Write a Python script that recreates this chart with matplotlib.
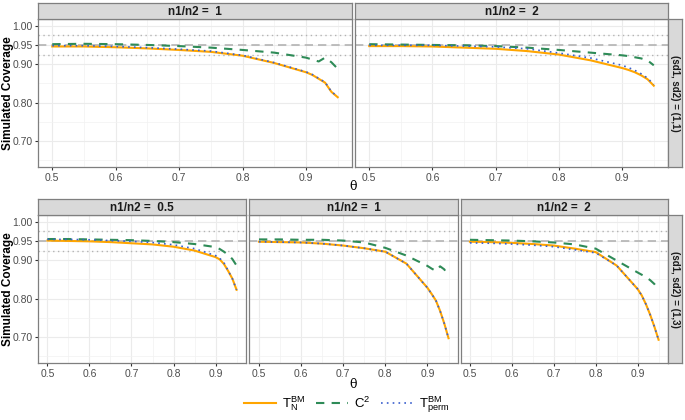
import numpy as np
import matplotlib
matplotlib.use("Agg")
import matplotlib.pyplot as plt
from matplotlib.lines import Line2D

plt.rcParams['font.family'] = ['Liberation Sans', 'DejaVu Sans']
plt.rcParams['mathtext.fontset'] = 'custom'
plt.rcParams['mathtext.rm'] = 'Liberation Sans'
plt.rcParams['mathtext.it'] = 'Liberation Sans'

# theta grid
theta = [0.50, 0.55, 0.60, 0.65, 0.70, 0.75, 0.80, 0.85, 0.90, 0.91, 0.92, 0.93, 0.94, 0.95]

# (sd1, sd2) = (1,1), n1/n2 = 1
tn_11_1 = [0.946, 0.946, 0.944, 0.941, 0.937, 0.932, 0.922, 0.903, 0.879, 0.872, 0.862, 0.852, 0.828, 0.814]
c2_11_1 = [0.952, 0.953, 0.952, 0.950, 0.947, 0.943, 0.937, 0.930, 0.917, 0.912, 0.907, 0.917, 0.905, 0.888]
tp_11_1 = [0.948, 0.948, 0.946, 0.943, 0.939, 0.934, 0.923, 0.904, 0.880, 0.873, 0.863, 0.853, 0.829, 0.815]
# (sd1, sd2) = (1,1), n1/n2 = 2
tn_11_2 = [0.947, 0.947, 0.946, 0.943, 0.940, 0.934, 0.925, 0.910, 0.890, 0.885, 0.879, 0.871, 0.861, 0.844]
c2_11_2 = [0.952, 0.951, 0.950, 0.949, 0.947, 0.943, 0.937, 0.930, 0.923, 0.921, 0.918, 0.915, 0.910, 0.897]
tp_11_2 = [0.949, 0.949, 0.949, 0.947, 0.945, 0.940, 0.929, 0.916, 0.897, 0.891, 0.884, 0.875, 0.864, 0.847]
# (sd1, sd2) = (1,3), n1/n2 = 0.5
tn_13_05 = [0.951, 0.950, 0.949, 0.947, 0.944, 0.941, 0.935, 0.925, 0.908, 0.902, 0.890, 0.872, 0.852, 0.823]
c2_13_05 = [0.955, 0.955, 0.954, 0.953, 0.952, 0.950, 0.947, 0.942, 0.934, 0.929, 0.922, 0.914, 0.903, 0.886]
tp_13_05 = [0.954, 0.954, 0.953, 0.951, 0.949, 0.946, 0.940, 0.930, 0.912, 0.905, 0.893, 0.873, 0.852, 0.823]
# (sd1, sd2) = (1,3), n1/n2 = 1
tn_13_1 = [0.948, 0.947, 0.946, 0.943, 0.938, 0.931, 0.922, 0.891, 0.828, 0.812, 0.795, 0.768, 0.735, 0.697]
c2_13_1 = [0.954, 0.954, 0.953, 0.953, 0.951, 0.946, 0.932, 0.912, 0.885, 0.878, 0.872, 0.884, 0.876, 0.857]
tp_13_1 = [0.948, 0.947, 0.946, 0.943, 0.938, 0.931, 0.922, 0.891, 0.828, 0.812, 0.795, 0.768, 0.735, 0.697]
# (sd1, sd2) = (1,3), n1/n2 = 2
tn_13_2 = [0.948, 0.947, 0.945, 0.942, 0.938, 0.930, 0.921, 0.886, 0.825, 0.808, 0.785, 0.758, 0.727, 0.693]
c2_13_2 = [0.953, 0.952, 0.951, 0.949, 0.946, 0.941, 0.930, 0.899, 0.868, 0.862, 0.856, 0.848, 0.838, 0.823]
tp_13_2 = [0.945, 0.944, 0.942, 0.939, 0.935, 0.927, 0.919, 0.886, 0.825, 0.808, 0.785, 0.758, 0.727, 0.693]

ratio_labels = ["n1/n2 =  1", "n1/n2 =  2", "n1/n2 =  0.5", "n1/n2 =  1", "n1/n2 =  2"]
row_labels = ["(sd1, sd2) = (1,1)", "(sd1, sd2) = (1,3)"]
x_ticks = [0.5, 0.6, 0.7, 0.8, 0.9]
y_ticks = [0.70, 0.80, 0.90, 0.95, 1.00]
y_tick_labels = ["0.70", "0.80", "0.90", "0.95", "1.00"]

col_orange = "#FFA500"
col_green = "#2E8B57"
col_blue = "#3A5FCD"
border = "#7F7F7F"

W, H = 685, 420
fig = plt.figure(figsize=(W / 100, H / 100), dpi=100)

def box(x0, y0, x1, y1):
    # pixel box (top-left origin) -> figure fraction
    return [x0 / W, 1 - y1 / H, (x1 - x0) / W, (y1 - y0) / H]

panels = [
    (tn_11_1, c2_11_1, tp_11_1, (38, 19, 352, 167), True, False),
    (tn_11_2, c2_11_2, tp_11_2, (355, 19, 668, 167), False, True),
    (tn_13_05, c2_13_05, tp_13_05, (38, 215, 246, 363), True, False),
    (tn_13_1, c2_13_1, tp_13_1, (249.5, 215, 458, 363), False, False),
    (tn_13_2, c2_13_2, tp_13_2, (460.5, 215, 668, 363), False, True),
]

for i, (tn, c2, tp, (x0, y0, x1, y1), first, last) in enumerate(panels):
    ax = fig.add_axes(box(x0, y0, x1, y1))
    ax.set_xlim(0.4775, 0.9725)
    ax.set_ylim(0.6325, 1.0175)
    ax.set_xticks(x_ticks)
    ax.set_xticks([0.55, 0.65, 0.75, 0.85, 0.95], minor=True)
    ax.set_yticks(y_ticks)
    ax.set_yticks([0.65, 0.75, 0.85, 0.925, 0.975], minor=True)
    ax.grid(which='major', color='#EBEBEB', lw=0.8)
    ax.grid(which='minor', color='#F2F2F2', lw=0.5)
    ax.set_axisbelow(True)
    ax.tick_params(which='minor', length=0)
    ax.tick_params(which='major', length=2.5, color='#333333', labelsize=7.5,
                   labelcolor='#4D4D4D', pad=1.5)
    if first:
        ax.set_yticklabels(y_tick_labels)
        fig.text(8 / W, 1 - (y0 + y1) / 2 / H, "Simulated Coverage", rotation=90,
                 ha='center', va='center', fontsize=8.5, fontweight='bold')
    else:
        ax.set_yticklabels([])
        ax.tick_params(axis='y', length=0)
    for s in ax.spines.values():
        s.set_color(border)
        s.set_linewidth(0.9)

    ax.axhline(0.95, color='#B3B3B3', lw=1.2, ls=(0, (5, 3)), zorder=1)
    ax.axhline(0.975, color='#B3B3B3', lw=1.0, ls=(0, (1, 2.5)), zorder=1)
    ax.axhline(0.925, color='#B3B3B3', lw=1.0, ls=(0, (1, 2.5)), zorder=1)

    ax.plot(theta, tn, color=col_orange, lw=1.5, zorder=3)
    ax.plot(theta, c2, color=col_green, lw=1.5, ls=(0, (4, 3.5)), zorder=3)
    ax.plot(theta, tp, color=col_blue, lw=1.2, ls=(0, (1, 2.5)), zorder=4)

    # strip on top
    sx = fig.add_axes(box(x0, y0 - 16, x1, y0))
    sx.set_xticks([]); sx.set_yticks([])
    sx.set_facecolor('#D9D9D9')
    for s in sx.spines.values():
        s.set_color(border)
        s.set_linewidth(0.9)
    sx.text(0.5, 0.45, ratio_labels[i], ha='center', va='center',
            fontsize=8.5, fontweight='bold', color='#1A1A1A', transform=sx.transAxes)

    if last:
        rx = fig.add_axes(box(x1, y0, x1 + 14, y1))
        rx.set_xticks([]); rx.set_yticks([])
        rx.set_facecolor('#D9D9D9')
        for s in rx.spines.values():
            s.set_color(border)
            s.set_linewidth(0.9)
        rx.text(0.5, 0.5, row_labels[0 if i == 1 else 1], ha='center', va='center',
                rotation=-90, fontsize=7, fontweight='bold', color='#1A1A1A',
                transform=rx.transAxes)

# theta axis titles
fig.text(353 / W, 1 - 186 / H, "θ", ha='center', va='center', fontsize=9,
         family=['DejaVu Serif'])
fig.text(353 / W, 1 - 384 / H, "θ", ha='center', va='center', fontsize=9,
         family=['DejaVu Serif'])

handles = [
    Line2D([], [], color=col_orange, lw=1.5),
    Line2D([], [], color=col_green, lw=1.5, ls=(0, (4, 3.5))),
    Line2D([], [], color=col_blue, lw=1.2, ls=(0, (1, 2.5))),
]
labels = [r"$\mathrm{T}_{\mathrm{N}}^{\mathrm{BM}}$", r"$\mathrm{C}^{2}$",
          r"$\mathrm{T}_{\mathrm{perm}}^{\mathrm{BM}}$"]
fig.legend(handles, labels, loc='center', bbox_to_anchor=(347 / W, 1 - 405 / H),
           ncol=3, frameon=False, fontsize=9.5, handlelength=2.4, columnspacing=0.8,
           handletextpad=0.5)

fig.savefig("out.png", dpi=100)
